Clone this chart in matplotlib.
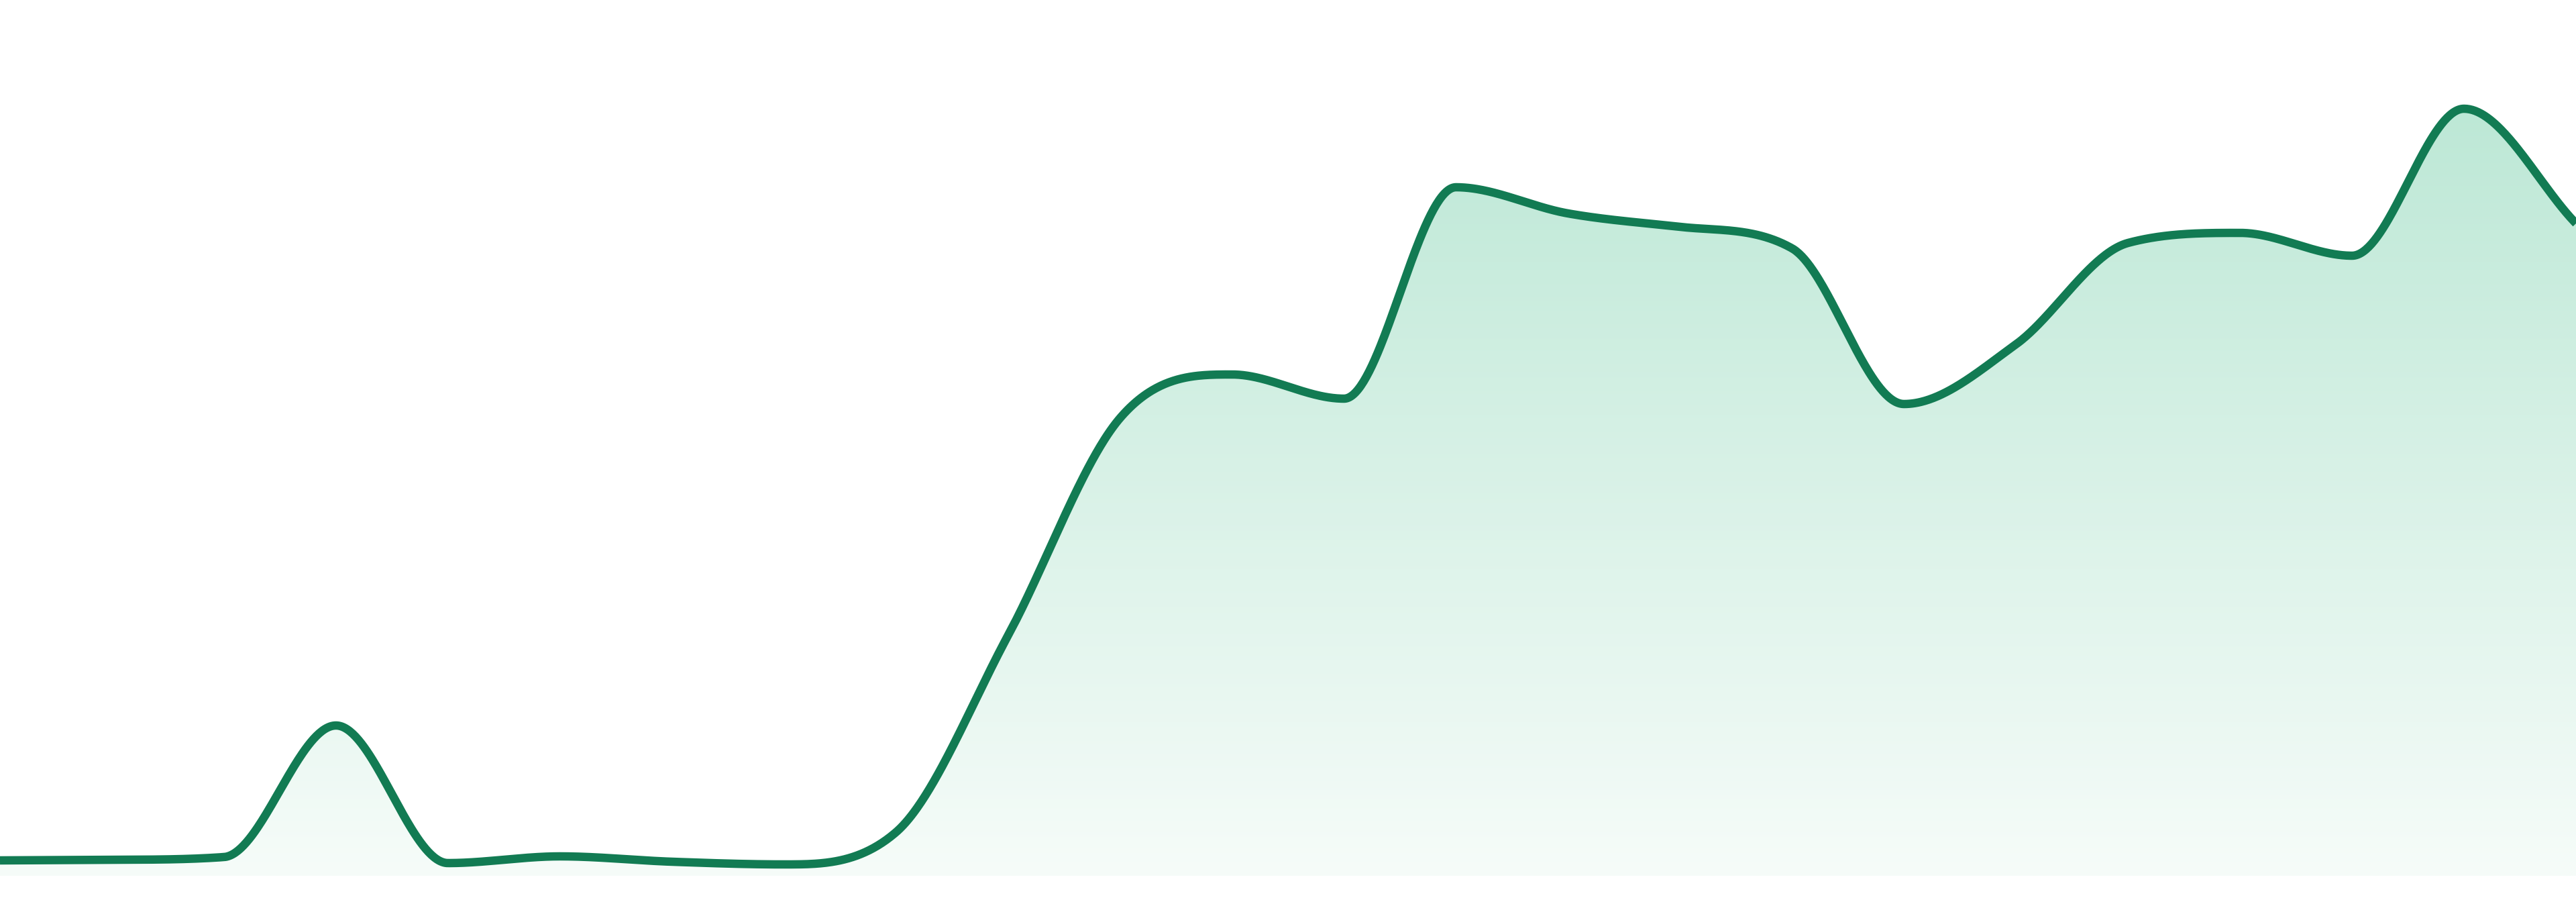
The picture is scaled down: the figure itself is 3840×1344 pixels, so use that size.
import numpy as np
import matplotlib
matplotlib.use("Agg")
import matplotlib.pyplot as plt
from matplotlib.colors import to_rgb

# ---- data ----
x_index = list(range(24))
values = [23, 24, 28, 224, 19, 29, 21, 17, 65, 358, 682, 747,
          711, 1026, 987, 967, 935, 703, 792, 943, 958, 924, 1143, 972]

line_color = "#127B53"
fill_top = "#BDE8D6"
fill_bottom = "#F6FCF9"

W, H, DPI = 3840, 1344, 100
baseline_px = 1305  # pixel row of the value 0


def monotone_tangents(x, y):
    """Fritsch-Carlson tangents (as used by Chart.js 'monotone')."""
    x = np.asarray(x, float)
    y = np.asarray(y, float)
    n = len(x)
    d = np.diff(y) / np.diff(x)
    m = np.zeros(n)
    m[0] = d[0]
    m[-1] = d[-1]
    for i in range(1, n - 1):
        if np.sign(d[i - 1]) != np.sign(d[i]):
            m[i] = 0.0
        else:
            m[i] = (d[i - 1] + d[i]) / 2
    for i in range(n - 1):
        if abs(d[i]) < 1e-9:
            m[i] = m[i + 1] = 0.0
            continue
        a = m[i] / d[i]
        b = m[i + 1] / d[i]
        mag = a * a + b * b
        if mag <= 9:
            continue
        tau = 3 / np.sqrt(mag)
        m[i] = a * tau * d[i]
        m[i + 1] = b * tau * d[i]
    return m


def monotone_curve(x, y, per=80):
    x = np.asarray(x, float)
    y = np.asarray(y, float)
    t = monotone_tangents(x, y)
    xs, ys = [], []
    for i in range(len(x) - 1):
        h = x[i + 1] - x[i]
        s = np.linspace(0, 1, per, endpoint=(i == len(x) - 2))
        h00 = 2 * s**3 - 3 * s**2 + 1
        h10 = s**3 - 2 * s**2 + s
        h01 = -2 * s**3 + 3 * s**2
        h11 = s**3 - s**2
        xs.append(x[i] + s * h)
        ys.append(h00 * y[i] + h10 * h * t[i] + h01 * y[i + 1] + h11 * h * t[i + 1])
    return np.concatenate(xs), np.concatenate(ys)


fig = plt.figure(figsize=(W / DPI, H / DPI), dpi=DPI)
fig.patch.set_facecolor("white")
ax = fig.add_axes([0, (H - baseline_px) / H, 1, baseline_px / H])
ax.set_xlim(x_index[0], x_index[-1])
ax.set_ylim(0, baseline_px)
ax.axis("off")

cx, cy = monotone_curve(x_index, values)

# gradient fill under the curve
poly = ax.fill_between(cx, 0, cy, facecolor="none", edgecolor="none")
ymax = max(values)
n = 512
grad_vals = np.linspace(0, 1, n)[:, None]
c_top = np.array(to_rgb(fill_top))
c_bot = np.array(to_rgb(fill_bottom))
img = c_bot[None, None, :] + (c_top - c_bot)[None, None, :] * grad_vals[:, :, None]
img = np.repeat(img, 2, axis=1)
im = ax.imshow(img, extent=[x_index[0], x_index[-1], 0, ymax], origin="lower",
               aspect="auto", interpolation="bilinear", zorder=1)
clip = poly.get_paths()[0]
im.set_clip_path(clip, transform=ax.transData)
ax.set_xlim(x_index[0], x_index[-1])
ax.set_ylim(0, baseline_px)

ax.plot(cx, cy, color=line_color, linewidth=12.5 * 72 / DPI,
        solid_capstyle="butt", solid_joinstyle="round", zorder=3, clip_on=False)

fig.savefig("out.png", dpi=DPI, facecolor="white")
